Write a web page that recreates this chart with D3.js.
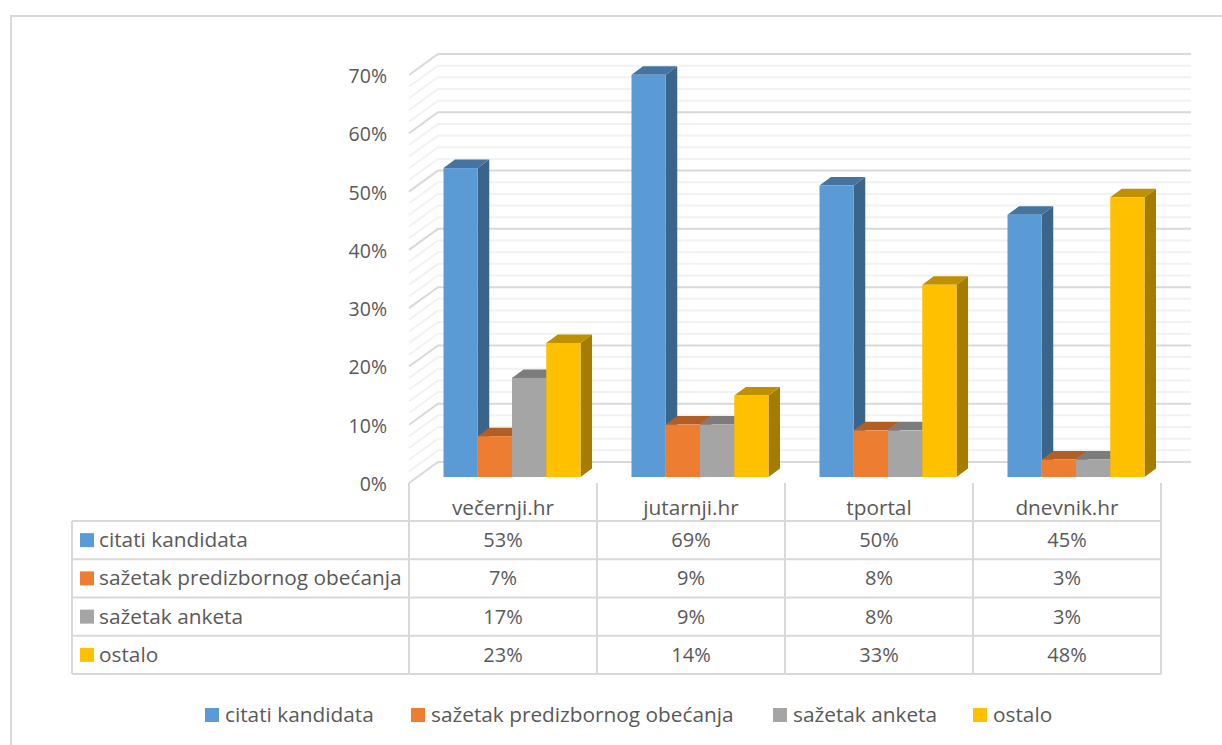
<!DOCTYPE html>
<html>
<head>
<meta charset="utf-8">
<script src="https://cdn.jsdelivr.net/npm/d3@7"></script>
<style>
body{margin:0;background:#fff;}
svg{display:block;}
text{font-family:"Open Sans",sans-serif;fill:#595959;}
</style>
</head>
<body>
<div id="chart"></div>
<script>
//chart data
const categories = ["večernji.hr", "jutarnji.hr", "tportal", "dnevnik.hr"];
const seriesNames = ["citati kandidata", "sažetak predizbornog obećanja", "sažetak anketa", "ostalo"];
const citati = [53, 69, 50, 45];
const predizborno = [7, 9, 8, 3];
const anketa = [17, 9, 8, 3];
const ostalo = [23, 14, 33, 48];
const seriesValues = [citati, predizborno, anketa, ostalo];
const yTicks = [0, 10, 20, 30, 40, 50, 60, 70];
const minorTicks = d3.range(0, 71, 2);

//front, top and side colour of every series
const frontColors = ["#5b9bd5", "#ed7d31", "#a5a5a5", "#ffc000"];
const topColors = ["#44749f", "#b25e24", "#7c7c7c", "#bf9000"];
const sideColors = ["#3a6489", "#9a5220", "#6b6b6b", "#a67c00"];

const labelSize = 20.8, numberSize = 20;

const svg = d3.select("#chart").append("svg").attr("width", 1222).attr("height", 745);

//outer frame, open on the right and at the bottom
svg.append("path")
    .attr("d", "M11,745V16H1222")
    .attr("fill", "none").attr("stroke", "#d9d9d9").attr("stroke-width", 2);

//scales
const x = d3.scaleBand().domain(categories).range([409, 1161]);
const series = d3.scaleBand().domain(d3.range(4)).range([34.5, 171.5]);
const h = d3.scaleLinear().domain([0, 70]).range([0, 408]);

const frontY = 483, wallDx = 29, wallDy = 21, wallRight = 1191;
const baseOffsetY = 6; //bars stand a little behind the front edge of the floor
const barDx = 11.5, barDy = 8.5;

//gridlines on the left and back walls
const gridPath = v => {
    const y = frontY - h(v);
    return `M409,${y}L${409 + wallDx},${y - wallDy}H${wallRight}`;
};
svg.append("g").selectAll("path").data(minorTicks.filter(v => v % 10 !== 0)).join("path")
    .attr("d", gridPath).attr("fill", "none").attr("stroke", "#f2f2f2").attr("stroke-width", 2);
svg.append("g").selectAll("path").data(yTicks).join("path")
    .attr("d", gridPath).attr("fill", "none").attr("stroke", "#d9d9d9").attr("stroke-width", 2);

//y labels
svg.append("g").selectAll("text").data(yTicks).join("text")
    .attr("x", 387).attr("y", d => frontY - h(d) + 8)
    .attr("text-anchor", "end").attr("font-size", 19.5)
    .text(d => d + "%");

//bars, left to right so each one covers the side of the one before
categories.forEach((cat, c) => {
    seriesValues.forEach((vals, s) => {
        const x0 = x(cat) + series(s);
        const w = series.bandwidth();
        const base = frontY - baseOffsetY;
        const top = base - h(vals[c]);
        const g = svg.append("g");
        g.append("path")
            .attr("d", `M${x0 + w},${top}l${barDx},${-barDy}V${base - barDy}L${x0 + w},${base}Z`)
            .attr("fill", sideColors[s]);
        g.append("path")
            .attr("d", `M${x0},${top}l${barDx},${-barDy}h${w}l${-barDx},${barDy}Z`)
            .attr("fill", topColors[s]);
        g.append("rect")
            .attr("x", x0).attr("y", top).attr("width", w).attr("height", h(vals[c]))
            .attr("fill", frontColors[s]);
    });
});

//data table under the chart
const rowY = d3.scaleLinear().domain([0, 4]).range([521, 674]);
const tableLeft = 72, tableRight = 1161;
const table = svg.append("g").attr("stroke", "#d9d9d9").attr("stroke-width", 2);
d3.range(5).forEach(i => {
    table.append("line").attr("x1", tableLeft).attr("x2", tableRight)
        .attr("y1", rowY(i)).attr("y2", rowY(i));
});
table.append("line").attr("x1", tableLeft).attr("x2", tableLeft).attr("y1", rowY(0)).attr("y2", rowY(4));
d3.range(5).forEach(i => {
    const vx = 409 + i * x.bandwidth();
    table.append("line").attr("x1", vx).attr("x2", vx).attr("y1", frontY).attr("y2", rowY(4));
});

//category labels
svg.append("g").selectAll("text").data(categories).join("text")
    .attr("x", d => x(d) + x.bandwidth() / 2).attr("y", 515)
    .attr("text-anchor", "middle").attr("font-size", labelSize)
    .text(d => d);

//table rows
seriesNames.forEach((name, s) => {
    const mid = (rowY(s) + rowY(s + 1)) / 2;
    svg.append("rect").attr("x", 80).attr("y", mid - 7).attr("width", 14).attr("height", 14)
        .attr("fill", frontColors[s]);
    svg.append("text").attr("x", 99).attr("y", mid + 7).attr("font-size", labelSize).text(name);
    categories.forEach((cat, c) => {
        svg.append("text")
            .attr("x", x(cat) + x.bandwidth() / 2).attr("y", mid + 7)
            .attr("text-anchor", "middle").attr("font-size", numberSize)
            .text(seriesValues[s][c] + "%");
    });
});

//legend at the bottom
const legendX = [205, 411, 773, 973];
seriesNames.forEach((name, s) => {
    svg.append("rect").attr("x", legendX[s]).attr("y", 708).attr("width", 14).attr("height", 14)
        .attr("fill", frontColors[s]);
    svg.append("text").attr("x", legendX[s] + 20).attr("y", 722).attr("font-size", labelSize).text(name);
});
</script>
</body>
</html>
